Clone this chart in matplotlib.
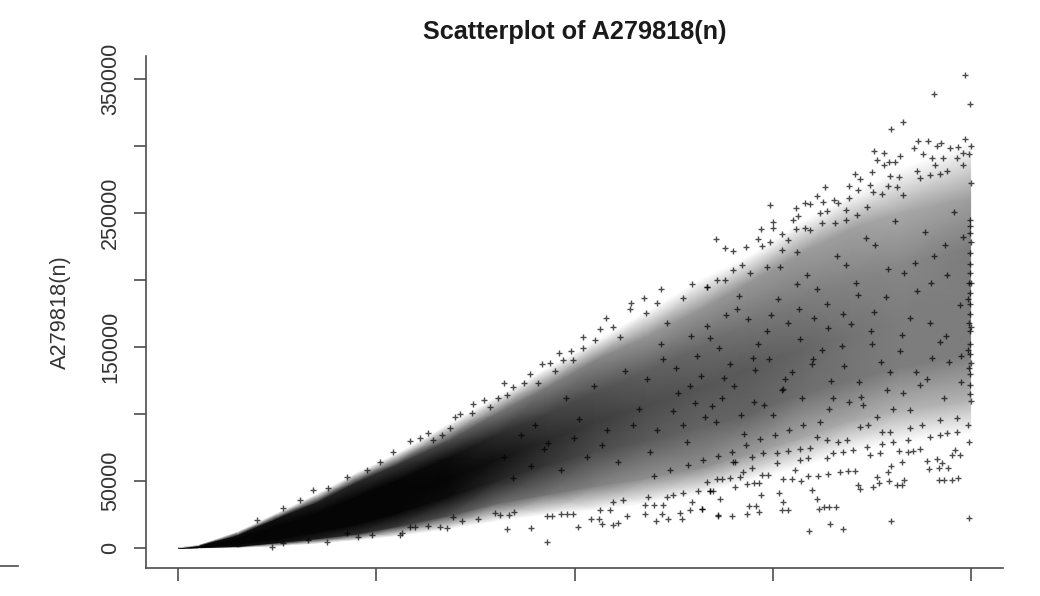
import numpy as np
import matplotlib
matplotlib.use('Agg')
import matplotlib.pyplot as plt
from matplotlib.lines import Line2D

plt.rcParams['font.family'] = ['Liberation Sans', 'DejaVu Sans']

# the dense cloud: levels across the cloud, read at each n, and how dark it is there
cloud_n = [0, 500, 1500, 2500, 3500, 4500, 5500, 6800, 8000, 9300, 10500, 11800,
           13165, 14400, 15700, 16950, 18200, 19990]
level_0 = [0, 0, 300, 1500, 3500, 6000, 9000, 14000, 20000, 25000, 28000, 33000,
           40000, 50000, 60000, 72000, 78000, 85000]
level_1 = [0, 200, 1200, 4000, 7000, 10500, 16000, 24000, 33000, 40000, 46000, 52000,
           60000, 70000, 82000, 95000, 102000, 110000]
level_2 = [0, 400, 2800, 7000, 12000, 18000, 26000, 38000, 50000, 62000, 72000, 80000,
           90000, 100000, 115000, 125000, 135000, 145000]
level_3 = [0, 700, 4500, 11000, 18000, 27000, 37000, 52000, 66000, 80000, 94000, 106000,
           119000, 134000, 149000, 159000, 169000, 184000]
level_4 = [0, 1000, 7000, 16000, 26000, 38000, 50000, 67000, 84000, 100000, 116000, 132000,
           150000, 168000, 186000, 198000, 210000, 224000]
level_5 = [0, 1500, 9500, 22000, 34000, 49000, 62000, 80000, 100000, 120000, 140000, 158000,
           178000, 198000, 220000, 238000, 250000, 262000]
level_6 = [0, 2000, 12000, 26000, 40000, 56000, 70000, 92000, 112000, 134000, 154000, 176000,
           200000, 218000, 243000, 263000, 283000, 303000]

dark_0 = [0] * 18
dark_1 = [.9, .9, .95, .95, .9, .85, .8, .7, .6, .55, .5, .45, .45, .4, .35, .35, .3, .3]
dark_2 = [1, 1, 1, 1, 1, 1, 1, .97, .88, .8, .72, .66, .62, .62, .58, .55, .52, .52]
dark_3 = [1, 1, 1, 1, 1, 1, 1, 1, .95, .85, .78, .72, .68, .66, .62, .56, .52, .52]
dark_4 = [1, 1, 1, 1, 1, 1, 1, .97, .85, .76, .7, .64, .6, .55, .52, .5, .48, .52]
dark_5 = [.95, .95, .95, .95, .9, .85, .8, .7, .55, .52, .48, .42, .42, .42, .4, .38, .35, .38]
dark_6 = [0] * 18

# points that stand out from the cloud
n_top_right = [19849, 19067, 19983, 18285, 17974, 18671, 18924, 19235, 19849, 19680,
               19470, 19992, 18562, 19151, 17545, 17806, 19958, 19806, 18798, 18209,
               19008, 19302, 19638, 17629, 17932, 17806, 18083, 19092, 19806, 17066,
               17495, 18630, 19386, 17957, 18192, 17200, 18714, 18966, 19218, 16931,
               16318, 17453, 17898, 18125, 19990, 17158, 16107, 16931, 17537, 17747,
               18293, 14930, 15586, 15805, 15939, 16259, 16545, 16654, 15645, 15519,
               15015, 14712, 15015, 15225, 15939, 15586, 15805, 14619, 13577, 13796,
               14006, 14317, 14930, 14720, 15225, 15603, 15393, 16192, 16360, 16839,
               16839, 17116, 17368, 16234, 16570, 14006, 14426, 14216, 13585, 13333,
               13796, 14846, 15183]
a_top_right = [353000, 338800, 331100, 318200, 312900, 304000, 304000, 302500, 305000, 299500,
               298300, 300000, 298800, 300000, 296300, 294800, 293800, 294500, 294000, 292500,
               290800, 290800, 290800, 289800, 288300, 285800, 288300, 285800, 285800, 279400,
               280600, 281600, 281600, 277600, 276900, 275100, 275900, 278400, 279100, 270400,
               269200, 270900, 270400, 269200, 272100, 267200, 263000, 261400, 265900, 263900,
               263400, 256200, 253500, 257200, 256500, 258200, 259700, 257700, 247800, 244800,
               243000, 238000, 238600, 234300, 237300, 238000, 239000, 230600, 230600, 224100,
               221600, 224900, 228100, 225400, 222400, 220600, 229800, 249800, 251500, 252200,
               244800, 248500, 254700, 242300, 242300, 207400, 205000, 211200, 200000, 195000,
               200000, 210000, 210000]

n_top_mid = [12972, 12182, 11745, 11425, 12072, 11400, 12745, 13333, 10786, 10979,
             10643, 11795, 10223, 10517, 11148, 10223, 9912, 9609, 9718, 9971,
             9172, 9382, 9508, 8878, 8735, 8214, 8458, 9088, 8079, 8289,
             7726, 7449, 7869, 6986, 7112, 7406, 6860, 6297, 6103, 5851,
             6440, 6650, 3410, 2650, 4260, 5420, 5090, 4760, 3780, 3080, 1990]
a_top_mid = [197000, 193000, 186300, 182600, 182600, 178100, 186300, 195000, 171400, 165200,
             163200, 175100, 157200, 155200, 157700, 149000, 147300, 145300, 140300, 140300,
             137300, 137800, 132300, 129800, 123400, 123400, 120400, 122900, 111700, 114200,
             110400, 107200, 105500, 97700, 99700, 100500, 89300, 85600, 81800, 79600,
             80600, 84300, 43300, 29900, 53000, 71600, 64200, 58200, 44800, 35800, 20900]

n_low_mid = [9306, 8306, 8911, 10080, 10963, 10702, 10408, 10618, 11106, 12056,
             12703, 12350, 11316, 11778, 12198, 13208, 12913, 12661, 13628, 9970,
             9802, 9660, 9424, 9298, 8121, 7995, 8348, 8474, 7566, 6776,
             6608, 6314, 5977, 5851, 5641, 7171, 6944, 10643, 10895, 10979,
             11232, 11862, 12325, 12493, 12745, 13123, 12955, 12014, 12240, 13417,
             11778, 2370, 3750, 4540, 4890, 5600, 3280, 2650, 4260]
a_low_mid = [4450, 13900, 15100, 15900, 17100, 17600, 21400, 21400, 18900, 20100,
             21400, 21400, 23900, 25300, 25300, 29100, 28300, 26300, 24600, 25100,
             25100, 25100, 24100, 24100, 24600, 25800, 24600, 27100, 21600, 15100,
             15900, 16400, 15900, 15900, 10900, 20400, 22900, 28300, 28300, 34500,
             35800, 38300, 38300, 39500, 40800, 42800, 34500, 32100, 32100, 42800,
             32100, 750, 4500, 8200, 9700, 9700, 6000, 3700, 11200]

n_low_right = [15922, 16452, 16763, 17974, 19941, 13627, 13964, 14359, 14661, 14409,
               14577, 15225, 15393, 15267, 15149, 14712, 13207, 16107, 15981, 16158,
               16292, 16427, 16587, 13669, 13417, 13501, 14048, 14342, 14535, 14661,
               13333, 13585, 13711, 13922, 14174, 15250, 15477, 15712, 15897, 16149,
               16402, 16696, 16906, 17074, 17158, 17200, 17537, 17680, 17932, 18125,
               18251, 18318, 17621, 17915, 17974, 18251, 18941, 18899, 19201, 19327,
               19512, 19681, 19201, 19428, 19260, 19151, 19512, 19722, 19596, 19958,
               18714, 18419, 18184, 18545, 14006, 14468, 14762, 15099, 15393, 15687,
               15939, 16107, 16360, 16528, 16780, 17032, 17368, 17747, 17453, 17705,
               18041, 18419, 18966, 19218, 19386, 19638, 19933, 19638, 19218, 18756,
               18461, 17957, 17747, 17410, 17200, 16864, 16654, 16360, 15897, 15687,
               15561, 15099, 14888, 14720, 14468, 14258, 14048]
a_low_right = [12400, 17600, 13900, 20100, 22600, 23900, 23900, 25300, 26600, 31600,
               31600, 28100, 28100, 34300, 40800, 39300, 29100, 36500, 43300, 29300,
               30300, 30300, 30300, 36500, 42300, 42300, 45800, 47500, 48200, 48700,
               49500, 51200, 51200, 52500, 53200, 51200, 51200, 49700, 53700, 53700,
               55200, 56500, 57400, 57400, 47000, 44000, 45800, 48700, 49700, 47000,
               47000, 50700, 53200, 56900, 61400, 63900, 58900, 65200, 50700, 50700,
               50700, 51900, 59900, 59900, 63200, 66400, 69400, 69400, 73100, 79300,
               73600, 71400, 72400, 72600, 64400, 68100, 70600, 70600, 72600, 73600,
               74400, 83100, 80600, 70600, 71900, 73100, 75600, 77600, 69400, 70600,
               79300, 80600, 83100, 84300, 85600, 86800, 91800, 96800, 95500, 91800,
               89300, 86800, 86800, 91800, 90500, 80600, 79300, 66900, 66900, 65700,
               58200, 63200, 54500, 54500, 59400, 56900, 64400]

# dark flecks inside the sparser right half of the cloud
n_inner = [8210, 8640, 9010, 9330, 9780, 10120, 10490, 10830, 11270, 11620,
           8450, 8910, 9240, 9650, 9990, 10310, 10700, 11090, 11480, 11910,
           12230, 12610, 12950, 13280, 13640, 14020, 14370, 14790, 15120, 15490,
           15860, 16230, 16610, 16980, 17340, 17720, 18090, 18460, 18830, 19210,
           19580, 19940, 12080, 12490, 12830, 13190, 13560, 13910, 14280, 14630,
           15010, 15380, 15740, 16120, 16470, 16850, 17230, 17590, 17960, 18320,
           18710, 19060, 19440, 19810, 11840, 12170, 12560, 12920, 13340, 13720,
           14110, 14490, 14860, 15240, 15600, 15990, 16360, 16740, 17110, 17490,
           17850, 18220, 18590, 18970, 19340, 19720, 12330, 12740, 13090, 13470,
           13820, 14210, 14560, 14950, 15310, 15690, 16050, 16420, 16800, 17180,
           17550, 17910, 18280, 18650, 19020, 19400, 19760, 19950, 19920, 19960,
           13030, 13410, 13780, 14150, 14530, 14900, 15270, 15650, 16010, 16390,
           16770, 17140, 17510, 17880, 18250, 18620, 19000, 19370, 19750, 19930,
           19310, 18880, 18470, 18040, 17640, 17270, 16920, 16530, 16180, 15770,
           15420, 15050, 14690, 14330, 13970, 13620, 13240, 12860, 12420, 12010]
a_inner = [68000, 84000, 92000, 78000, 112000, 96000, 121000, 88000, 132000, 104000,
           52000, 61000, 74000, 58000, 82000, 68000, 77000, 64000, 92000, 72000,
           141000, 116000, 158000, 98000, 149000, 121000, 171000, 107000, 186000, 131000,
           204000, 148000, 218000, 167000, 231000, 139000, 244000, 172000, 236000, 154000,
           251000, 198000, 88000, 102000, 79000, 128000, 94000, 137000, 85000, 152000,
           99000, 168000, 112000, 193000, 125000, 211000, 113000, 226000, 131000, 205000,
           122000, 218000, 139000, 232000, 126000, 152000, 134000, 121000, 166000, 112000,
           178000, 142000, 162000, 118000, 197000, 137000, 182000, 151000, 198000, 162000,
           187000, 147000, 213000, 168000, 226000, 181000, 168000, 92000, 143000, 106000,
           174000, 99000, 133000, 174000, 126000, 156000, 172000, 104000, 136000, 124000,
           176000, 208000, 116000, 192000, 142000, 204000, 124000, 168000, 148000, 134000,
           108000, 157000, 127000, 188000, 109000, 141000, 119000, 178000, 141000, 164000,
           175000, 189000, 152000, 118000, 159000, 131000, 198000, 158000, 143000, 186000,
           112000, 126000, 103000, 104000, 98000, 107000, 109000, 112000, 94000, 92000,
           88000, 84000, 81000, 77000, 72000, 69000, 66000, 62000, 58000, 54000]

# the dense column at the right hand end
n_edge = [19980, 19985, 19975, 19990, 19980, 19985, 19975, 19990, 19980, 19985,
          19975, 19990, 19980, 19985, 19975, 19990, 19980, 19985, 19975, 19990]
a_edge = [245000, 240000, 235000, 228000, 220000, 212000, 205000, 198000, 190000, 182000,
          175000, 165000, 162000, 152000, 145000, 138000, 130000, 122000, 115000, 110000]

y_ticks = [0, 50000, 100000, 150000, 200000, 250000, 300000, 350000]
y_labels = ['0', '50000', '', '150000', '', '250000', '', '350000']
x_ticks = [0, 5000, 10000, 15000, 20000]

W, H = 1040, 596
fig = plt.figure(figsize=(W / 100, H / 100), dpi=100)
ax = fig.add_axes([146 / W, 1 - 568 / H, (1003 - 146) / W, (568 - 56) / H])

# the cloud is a soft shaded mesh, single points go on top
levels = np.array([level_0, level_1, level_2, level_3, level_4, level_5, level_6])
darks = np.array([dark_0, dark_1, dark_2, dark_3, dark_4, dark_5, dark_6])
mesh_n = np.tile(cloud_n, (levels.shape[0], 1))
ax.pcolormesh(mesh_n, levels, darks, shading='gouraud', cmap='gray_r', vmin=0, vmax=1.02)

for xs, ys in [(n_inner, a_inner), (n_top_right, a_top_right), (n_top_mid, a_top_mid),
               (n_low_mid, a_low_mid), (n_low_right, a_low_right), (n_edge, a_edge)]:
    ax.plot(xs, ys, '+', color='black', ms=4.6, mew=1.0, alpha=0.7)

ax.set_xlim(-807, 20807)
ax.set_ylim(-14925, 367180)
ax.spines['top'].set_visible(False)
ax.spines['right'].set_visible(False)
ax.spines['left'].set_color('#4d4d4d')
ax.spines['bottom'].set_color('#4d4d4d')
ax.spines['left'].set_linewidth(1.2)
ax.spines['bottom'].set_linewidth(1.2)

ax.set_xticks(x_ticks)
ax.set_xticklabels([])
ax.set_yticks(y_ticks)
ax.set_yticklabels(y_labels, rotation=90, va='center', fontsize=15.5, color='#333333')
ax.tick_params(axis='both', length=9, width=1.2, color='#4d4d4d', pad=9)

fig.text(575 / W, 1 - 32 / H, 'Scatterplot of A279818(n)', ha='center', va='center',
         fontsize=18.2, fontweight='bold', color='#1a1a1a')
fig.text(60 / W, 1 - 312 / H, 'A279818(n)', ha='center', va='center', rotation=90,
         fontsize=15.7, color='#333333')

# short stray rule at the lower left edge of the image
fig.add_artist(Line2D([0, 18 / W], [1 - 566 / H, 1 - 566 / H], color='#4d4d4d', lw=1.2))

fig.savefig('out.png', dpi=100)
